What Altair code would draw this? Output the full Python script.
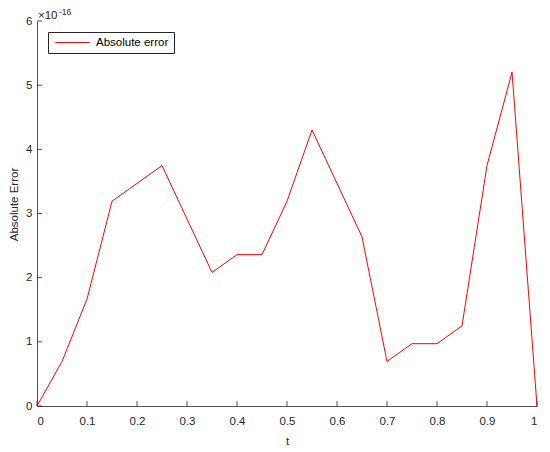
import altair as alt
import pandas as pd

# ---- data (error values in units of 1e-16) ----
t = [0.00, 0.05, 0.10, 0.15, 0.20, 0.25, 0.30, 0.35, 0.40, 0.45, 0.50,
     0.55, 0.60, 0.65, 0.70, 0.75, 0.80, 0.85, 0.90, 0.95, 1.00]
abs_error = [0.000, 0.694, 1.665, 3.191, 3.469, 3.747, 2.914, 2.082, 2.359, 2.359, 3.191,
             4.302, 3.469, 2.637, 0.694, 0.971, 0.971, 1.249, 3.747, 5.204, 0.000]
x_ticks = [0, 0.1, 0.2, 0.3, 0.4, 0.5, 0.6, 0.7, 0.8, 0.9, 1]
y_ticks = [0, 1, 2, 3, 4, 5, 6]
series_name = "Absolute error"

W, H = 500, 385
AX = "#262626"
FONT = "Liberation Sans"

df = pd.DataFrame({"t": t, "err": abs_error, "series": [series_name] * len(t)})
xscale = alt.Scale(domain=[0, 1], nice=False, zero=False)
yscale = alt.Scale(domain=[0, 6], nice=False)

x_axis = alt.Axis(title="t", values=x_ticks, format="~g", labelPadding=9, titlePadding=9)
y_axis = alt.Axis(title="Absolute Error", values=y_ticks, format="d",
                  labelPadding=5, titlePadding=6, titleY=183)

line = alt.Chart(df).mark_line(strokeWidth=1, clip=False).encode(
    x=alt.X("t:Q", scale=xscale, axis=x_axis, title="t"),
    y=alt.Y("err:Q", scale=yscale, axis=y_axis, title="Absolute Error"),
    color=alt.Color("series:N",
                    scale=alt.Scale(domain=[series_name], range=["#ff0000"]),
                    legend=alt.Legend(title=None, orient="none", legendX=11, legendY=11,
                                      symbolType="stroke", symbolSize=1156,
                                      symbolStrokeWidth=1, clipHeight=11,
                                      labelFont=FONT, labelFontSize=11.5,
                                      labelColor="#000000", strokeColor=AX,
                                      fillColor="white", padding=5,
                                      labelOffset=6, symbolOffset=2)),
)

xt = alt.Chart(pd.DataFrame({"v": x_ticks})).mark_rule(color=AX, strokeWidth=0.8).encode(
    x=alt.X("v:Q", scale=xscale, axis=x_axis, title="t"),
    y=alt.value(H), y2=alt.value(H - 5),
)
yt = alt.Chart(pd.DataFrame({"v": y_ticks})).mark_rule(color=AX, strokeWidth=0.8).encode(
    y=alt.Y("v:Q", scale=yscale, axis=y_axis, title="Absolute Error"),
    x=alt.value(0), x2=alt.value(5),
)

one = pd.DataFrame({"a": [0]})
exp_base = alt.Chart(one).mark_text(text="×10", align="left", baseline="alphabetic",
                                    fontSize=11.5, font=FONT, color=AX).encode(
    x=alt.value(1), y=alt.value(-2))
exp_sup = alt.Chart(one).mark_text(text="-16", align="left", baseline="alphabetic",
                                   fontSize=8.5, font=FONT, color=AX).encode(
    x=alt.value(22), y=alt.value(-6))

chart = alt.layer(line, xt, yt, exp_base, exp_sup).properties(
    width=W, height=H,
    padding={"left": 29, "top": 13, "right": 5, "bottom": 44},
    autosize=alt.AutoSizeParams(type="none"),
).configure_view(stroke=None).configure_axis(
    domainColor=AX, domainWidth=0.8, ticks=False, tickSize=0, grid=False,
    labelColor=AX, titleColor=AX, labelFont=FONT, titleFont=FONT,
    labelFontSize=11.5, titleFontSize=11.5, titleFontWeight="normal",
)

chart.save("out.html", embed_options={"renderer": "svg", "actions": False})
